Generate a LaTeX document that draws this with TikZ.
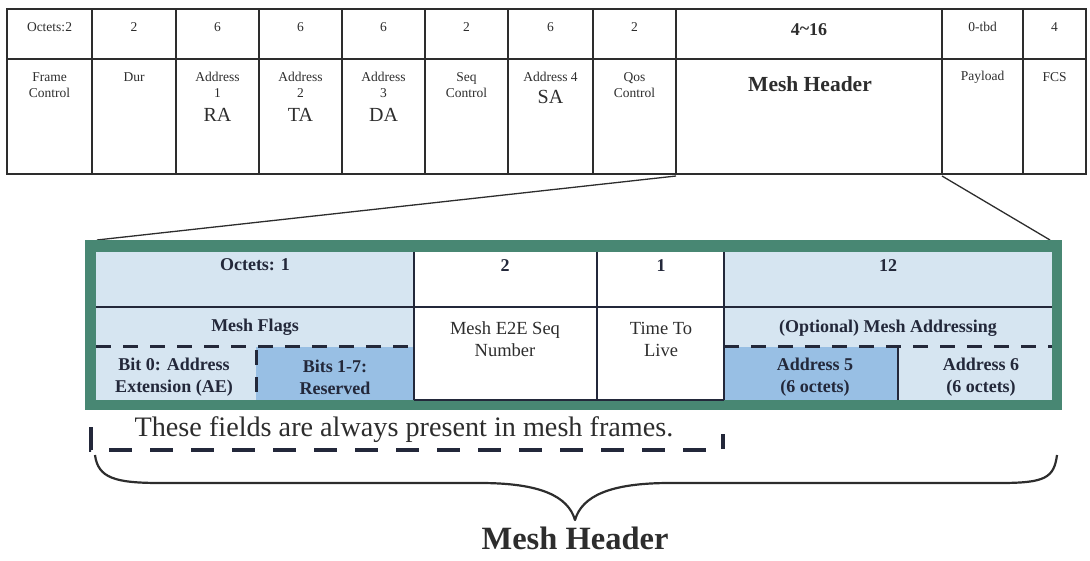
\documentclass[tikz,border=0pt]{standalone}
\usepackage{fontspec}
\setmainfont{Liberation Serif}
\definecolor{frame}{RGB}{72,135,115}
\definecolor{lblue}{RGB}{214,229,241}
\definecolor{dblue}{RGB}{152,191,228}
\definecolor{txt}{RGB}{45,45,45}
\definecolor{btxt}{RGB}{35,40,58}
\tikzset{
  grid/.style={line width=2.6pt, draw=txt},
  tt/.style={font=\fontsize{13.5}{16.5}\selectfont, align=center, text=txt, inner sep=0pt},
  big/.style={font=\fontsize{20}{22}\selectfont, text=txt, inner sep=0pt},
  gb/.style={font=\bfseries\fontsize{18}{22}\selectfont, align=center, text=btxt, inner sep=0pt},
  gr/.style={font=\fontsize{18.5}{22}\selectfont, align=center, text=txt, inner sep=0pt},
  inner/.style={line width=2.6pt, draw=btxt},
  dsh/.style={line width=3pt, draw=btxt, dash pattern=on 15pt off 12pt},
  conn/.style={line width=1.3pt, draw=txt},
}
\begin{document}
\begin{tikzpicture}[x=1pt,y=-1pt]
\useasboundingbox (0,0) rectangle (1090,561);
% ---------- top frame table ----------
\draw[grid] (7,9) rectangle (1086,174);
\draw[grid] (7,59) -- (1086,59);
\foreach \x in {92,176,259,342,425,508,593,676,942,1023}
  \draw[grid] (\x,9) -- (\x,174);
\node[tt] (o1) at (49.5,27) {Octets:2};
\node[tt] (o2) at (134,27) {2};
\node[tt] (o3) at (217.5,27) {6};
\node[tt] (o4) at (300.5,27) {6};
\node[tt] (o5) at (383.5,27) {6};
\node[tt] (o6) at (466.5,27) {2};
\node[tt] (o7) at (550.5,27) {6};
\node[tt] (o8) at (634.5,27) {2};
\node[tt, font=\bfseries\fontsize{18}{20}\selectfont] (o9) at (809,30) {4\raisebox{1pt}{\textasciitilde}16};
\node[tt] (o10) at (982.5,27) {0-tbd};
\node[tt] (o11) at (1054.5,27) {4};
\node[tt] (f1) at (49.5,85) {Frame\\Control};
\node[tt] (f2) at (134,77) {Dur};
\node[tt] (f3) at (217.5,85) {Address\\1};
\node[big] (f3b) at (217.5,115) {RA};
\node[tt] (f4) at (300.5,85) {Address\\2};
\node[big] (f4b) at (300.5,115) {TA};
\node[tt] (f5) at (383.5,85) {Address\\3};
\node[big] (f5b) at (383.5,115) {DA};
\node[tt] (f6) at (466.5,85) {Seq\\Control};
\node[tt] (f7) at (550.5,77) {Address 4};
\node[big] (f7b) at (550.5,97) {SA};
\node[tt] (f8) at (634.5,85) {Qos\\Control};
\node[tt, font=\bfseries\fontsize{21.5}{24}\selectfont] (f9) at (810,84) {Mesh Header};
\node[tt] (f10) at (982.5,77) {Payload};
\node[tt] (f11) at (1054.5,77) {FCS};
% ---------- connectors ----------
\coordinate (mhL) at (676,176);
\coordinate (mhR) at (942,176);
\coordinate (gL) at (97,240);
\coordinate (gR) at (1050,240);
\draw[conn] (mhL) -- (gL);
\draw[conn] (mhR) -- (gR);
% ---------- mesh header detail ----------
\fill[frame] (85,240) rectangle (1062,410);
\fill[lblue] (96,252) rectangle (414,400);
\fill[white] (414,252) rectangle (724,400);
\fill[lblue] (724,252) rectangle (1052,400);
\fill[dblue] (256,347) rectangle (414,400);
\fill[dblue] (724,347) rectangle (898,400);
\draw[inner] (96,307) -- (1052,307);
\draw[inner] (414,400) -- (724,400);
\foreach \x in {414,597,724}
  \draw[inner] (\x,252) -- (\x,400);
\draw[inner, line width=2pt] (898,347) -- (898,400);
\draw[dsh] (96,347) -- (414,347);
\draw[dsh] (724,347) -- (1052,347);
\draw[dsh] (256,350) -- (256,400);
\node[gb] (g1) at (255,265) {Octets: 1};
\node[gb] (g2) at (505,266) {2};
\node[gb] (g3) at (661,266) {1};
\node[gb] (g4) at (888,266) {12};
\node[gb] (g5) at (255,327) {Mesh Flags};
\node[gr] (g6) at (505,339) {Mesh E2E Seq\\Number};
\node[gr] (g7) at (661,339) {Time To\\Live};
\node[gb] (g8) at (888,328) {(Optional) Mesh Addressing};
\node[gb] (g9) at (174,377) {Bit 0: Address\\Extension (AE)};
\node[gb] (g10) at (335,377) {Bits 1-7:\\Reserved};
\node[gb] (g11) at (815,377) {Address 5\\(6 octets)};
\node[gb] (g12) at (981,377) {Address 6\\(6 octets)};
% ---------- always-present bracket ----------
\node[font=\fontsize{28.2}{30}\selectfont, text=txt, inner sep=0pt] (note) at (404,430) {These fields are always present in mesh frames.};
\coordinate (bL) at (91,427);
\coordinate (bR) at (723,434);
\draw[line width=3.5pt, draw=btxt, dash pattern=on 23pt off 18pt] (bL) -- (bL |- 0,450) -- (bR |- 0,450) -- (bR);
% ---------- brace ----------
\coordinate (brL) at (95,455);
\coordinate (brR) at (1057,455);
\coordinate (brT) at (575,520);
\draw[line width=2.2pt, draw=txt, line join=round]
  (brL) .. controls (98,478) and (115,483) .. (160,483)
  -- (480,483) .. controls (540,483) and (568,496) .. (brT)
  .. controls (582,496) and (610,483) .. (670,483)
  -- (1000,483) .. controls (1045,483) and (1054,478) .. (brR);
\node[font=\bfseries\fontsize{32.5}{34}\selectfont, text=txt, inner sep=0pt] (mhlabel) at (575,538) {Mesh Header};
\end{tikzpicture}
\end{document}
